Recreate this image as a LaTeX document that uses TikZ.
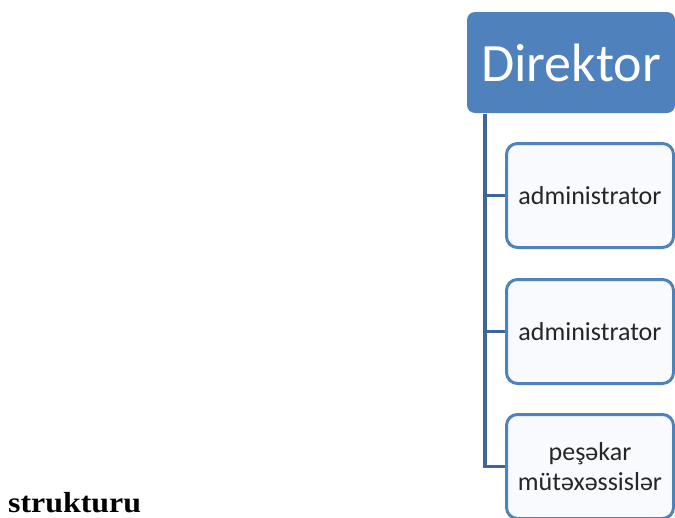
\documentclass[tikz,border=0pt]{standalone}
\usepackage{fontspec}
\setmainfont{Carlito}
\newfontfamily\capfont{Liberation Serif}
\usetikzlibrary{positioning}

\definecolor{boxblue}{RGB}{79,129,189}
\definecolor{trunkblue}{RGB}{62,102,152}
\definecolor{boxfill}{RGB}{248,250,253}

\begin{document}
\begin{tikzpicture}[x=1pt,y=-1pt]

	\tikzset{
		boss/.style={
				rectangle, rounded corners=8pt, fill=boxblue, text=white, inner sep=0pt,
				minimum width=208pt, minimum height=101pt, font=\fontsize{54}{60}\selectfont
			},
		staff/.style={
				rectangle, rounded corners=11pt, draw=boxblue, fill=boxfill, line width=3pt,
				inner sep=0pt, minimum width=167pt, minimum height=104pt, align=center,
				text=black!85, font=\fontsize{26}{30}\selectfont
			},
		branch/.style={
				draw=trunkblue, line width=3.5pt
			},
	}
	\useasboundingbox (0,0) rectangle (675,517);

	\node[boss](boss) at (571,62.5){Direktor};
	\node[staff](a1) at (590,195.5){administrator};
	\node[staff, below=29pt of a1](a2){administrator};
	\node[staff, below=28pt of a2](a3){peşəkar\\mütəxəssislər};
	\coordinate[below=1pt of boss.south west, xshift=18pt](trunk);

	\node[anchor=base west, inner sep=0pt, font=\capfont\bfseries\fontsize{29}{32}\selectfont](cap) at (8,512){\scalebox{1.1}[1]{strukturu}};

	\path[branch] (trunk) |- (a3.west);
	\path[branch] (trunk) |- (a1.west);
	\path[branch] (trunk) |- (a2.west);

\end{tikzpicture}
\end{document}
